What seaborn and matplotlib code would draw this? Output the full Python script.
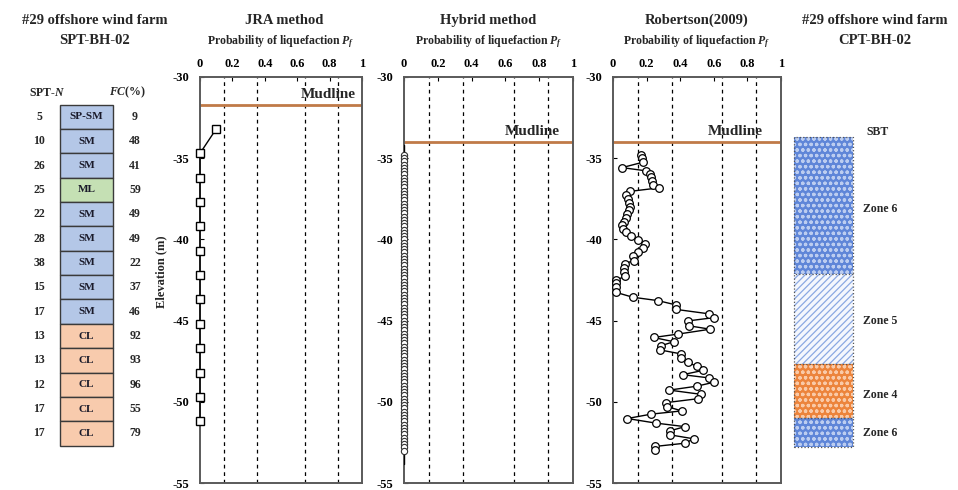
import numpy as np
import pandas as pd
import matplotlib
matplotlib.use("Agg")
import matplotlib.pyplot as plt
import seaborn as sns

# ---------------- data ----------------
spt_top = [-31.7, -33.2, -34.7, -36.2, -37.7, -39.2, -40.7, -42.2, -43.7, -45.2, -46.7, -48.2, -49.7, -51.2]
spt_n = [5, 10, 26, 25, 22, 28, 38, 15, 17, 13, 13, 12, 17, 17]
uscs = ['SP-SM', 'SM', 'SM', 'ML', 'SM', 'SM', 'SM', 'SM', 'SM', 'CL', 'CL', 'CL', 'CL', 'CL']
fc = [9, 48, 41, 59, 49, 49, 22, 37, 46, 92, 93, 96, 55, 79]

jra_elev = [-33.2, -34.7, -36.2, -37.7, -39.2, -40.7, -42.2, -43.7, -45.2, -46.7, -48.2, -49.7, -51.2]
jra_pf = [0.10, 0, 0, 0, 0, 0, 0, 0, 0, 0, 0, 0, 0]

hyb_elev = [-34.8, -35.0, -35.2, -35.4, -35.6, -35.8, -36.0, -36.2, -36.4, -36.6, -36.8, -37.0,
            -37.2, -37.4, -37.6, -37.8, -38.0, -38.2, -38.4, -38.6, -38.8, -39.0, -39.2, -39.4,
            -39.6, -39.8, -40.0, -40.2, -40.4, -40.6, -40.8, -41.0, -41.2, -41.4, -41.6, -41.8,
            -42.0, -42.2, -42.4, -42.6, -42.8, -43.0, -43.2, -43.4, -43.6, -43.8, -44.0, -44.2,
            -44.4, -44.6, -44.8, -45.0, -45.2, -45.4, -45.6, -45.8, -46.0, -46.2, -46.4, -46.6,
            -46.8, -47.0, -47.2, -47.4, -47.6, -47.8, -48.0, -48.2, -48.4, -48.6, -48.8, -49.0,
            -49.2, -49.4, -49.6, -49.8, -50.0, -50.2, -50.4, -50.6, -50.8, -51.0, -51.2, -51.4,
            -51.6, -51.8, -52.0, -52.2, -52.4, -52.6, -52.8, -53.0]
hyb_pf = [0.0] * len(hyb_elev)
hyb_line_elev = [-34.2, -53.8]
hyb_line_pf = [0.0, 0.0]

rob_elev = [-34.79, -35.00, -35.25, -35.58, -35.78, -35.98, -36.18, -36.43, -36.63, -36.83,
            -37.04, -37.28, -37.52, -37.74, -37.99, -38.21, -38.45, -38.70, -38.90, -39.14,
            -39.35, -39.57, -39.78, -40.02, -40.28, -40.52, -40.77, -41.04, -41.30, -41.50,
            -41.74, -41.98, -42.28, -42.51, -42.71, -42.96, -43.26, -43.56, -43.77, -44.03,
            -44.31, -44.58, -44.82, -45.02, -45.32, -45.53, -45.83, -46.04, -46.30, -46.55,
            -46.81, -47.05, -47.32, -47.58, -47.82, -48.07, -48.33, -48.53, -48.80, -49.04,
            -49.28, -49.54, -49.81, -50.05, -50.30, -50.56, -50.76, -51.03, -51.31, -51.53,
            -51.78, -52.04, -52.28, -52.55, -52.75, -52.99]
rob_pf = [0.168, 0.173, 0.177, 0.054, 0.198, 0.218, 0.228, 0.232, 0.238, 0.272,
          0.103, 0.077, 0.087, 0.097, 0.103, 0.093, 0.083, 0.077, 0.064, 0.054,
          0.058, 0.077, 0.109, 0.149, 0.189, 0.179, 0.149, 0.120, 0.123, 0.070,
          0.064, 0.064, 0.070, 0.018, 0.018, 0.018, 0.018, 0.117, 0.268, 0.373,
          0.375, 0.569, 0.599, 0.446, 0.452, 0.579, 0.387, 0.242, 0.361, 0.285,
          0.282, 0.405, 0.407, 0.446, 0.500, 0.534, 0.415, 0.573, 0.599, 0.498,
          0.335, 0.524, 0.505, 0.317, 0.322, 0.410, 0.227, 0.085, 0.254, 0.428,
          0.342, 0.342, 0.481, 0.428, 0.249, 0.249]

mudline = {'JRA': -31.7, 'Hybrid': -34.0, 'Robertson': -34.0}

sbt_top = [-33.7, -42.1, -47.7, -51.0]
sbt_bot = [-42.1, -47.7, -51.0, -52.8]
sbt_zone = ['Zone 6', 'Zone 5', 'Zone 4', 'Zone 6']

x_ticks = [0, 0.2, 0.4, 0.6, 0.8, 1]
x_ticklabels = ['0', '0.2', '0.4', '0.6', '0.8', '1']
y_ticks = [-30, -35, -40, -45, -50, -55]
ref_lines = [0.15, 0.35, 0.65, 0.85]

# ---------------- style ----------------
sns.set_style('white')
plt.rcParams['font.family'] = ['Liberation Serif', 'DejaVu Serif']
plt.rcParams['font.weight'] = 'bold'
plt.rcParams['axes.unicode_minus'] = False
plt.rcParams['mathtext.fontset'] = 'custom'
plt.rcParams['mathtext.it'] = 'Liberation Serif:italic:bold'
plt.rcParams['mathtext.rm'] = 'Liberation Serif:bold'
plt.rcParams['hatch.linewidth'] = 0.9

W, H = 958, 490
TOP, BOT = 77, 483
fig = plt.figure(figsize=(W / 100, H / 100), dpi=100)

def px_axes(left, right, top=TOP, bottom=BOT):
    return fig.add_axes([left / W, 1 - bottom / H, (right - left) / W, (bottom - top) / H])

spine_col = '#5a5a5a'
mud_col = '#c07a48'

def setup_prob_axes(ax, title, title_x, mud, mud_x):
    ax.set_xlim(0, 1)
    ax.set_ylim(-55, -30)
    ax.xaxis.tick_top()
    ax.set_xticks(x_ticks)
    ax.set_xticklabels(x_ticklabels)
    ax.set_yticks(y_ticks)
    ax.tick_params(axis='x', direction='in', length=3, pad=5, labelsize=9, colors='black')
    ax.tick_params(axis='y', direction='in', length=3, pad=8, labelsize=9, colors='black', left=True)
    ax.tick_params(axis='x', top=True, bottom=False)
    for s in ax.spines.values():
        s.set_color(spine_col)
        s.set_linewidth(1.4)
    for xv in ref_lines:
        ax.axvline(xv, color='black', ls=(0, (3, 3)), lw=0.9, zorder=1)
    ax.axhline(mud, color=mud_col, lw=2, zorder=2)
    ax.text(mud_x, mud + 0.25, 'Mudline', ha='right', va='bottom', fontsize=11, fontweight='bold')
    ax.text(0.5, 1 + 35 / (BOT - TOP), r'Probability of liquefaction $P_f$', transform=ax.transAxes,
            ha='center', va='center', fontsize=8.5, fontweight='bold')
    ax.text(title_x, 1 + 57 / (BOT - TOP), title, transform=ax.transAxes, ha='center', va='center',
            fontsize=10.5, fontweight='bold')
    ax.set_xlabel('')
    ax.set_ylabel('')

# JRA
ax1 = px_axes(200, 362)
sns.lineplot(x=jra_pf, y=jra_elev, sort=False, estimator=None, ax=ax1, color='black', lw=1,
             marker='s', markersize=5.5, markerfacecolor='white', markeredgecolor='black',
             markeredgewidth=1, zorder=5, clip_on=False)
setup_prob_axes(ax1, 'JRA method', 0.52, mudline['JRA'], 0.96)
ax1.set_ylabel('Elevation (m)', fontsize=9, fontweight='bold')
ax1.yaxis.set_label_coords(-0.2, 0.52)

# Hybrid
ax2 = px_axes(404, 573)
sns.lineplot(x=hyb_line_pf, y=hyb_line_elev, sort=False, estimator=None, ax=ax2, color='black', lw=1, zorder=4)
sns.lineplot(x=hyb_pf, y=hyb_elev, sort=False, estimator=None, ax=ax2, color='black', lw=1,
             marker='o', markersize=4.5, markerfacecolor='white', markeredgecolor='#333333',
             markeredgewidth=0.8, zorder=5, clip_on=False)
setup_prob_axes(ax2, 'Hybrid method', 0.5, mudline['Hybrid'], 0.92)

# Robertson
ax3 = px_axes(613, 781)
sns.lineplot(x=rob_pf, y=rob_elev, sort=False, estimator=None, ax=ax3, color='black', lw=1,
             marker='o', markersize=5.5, markerfacecolor='white', markeredgecolor='black',
             markeredgewidth=0.9, zorder=5, clip_on=False)
setup_prob_axes(ax3, 'Robertson(2009)', 0.5, mudline['Robertson'], 0.89)

# ---------------- SPT column ----------------
axs = px_axes(0, 200)
axs.set_xlim(0, 200)
axs.set_ylim(-55, -30)
axs.axis('off')
spt_colors = {'SP-SM': '#b4c7e7', 'SM': '#b4c7e7', 'ML': '#c5e0b4', 'CL': '#f8cbad'}
thick = 1.5
centers = [t - thick / 2 for t in spt_top]
axs.barh(centers, [53] * len(centers), left=60, height=thick,
         color=[spt_colors[u] for u in uscs], edgecolor='#3a3a3a', linewidth=1)
for c, n, u, f in zip(centers, spt_n, uscs, fc):
    axs.text(39, c, str(n), ha='center', va='center', fontsize=8.5, fontweight='bold')
    axs.text(86.5, c, u, ha='center', va='center', fontsize=8, fontweight='bold', color='#1a1a2a')
    axs.text(135, c, str(f), ha='center', va='center', fontsize=8.5, fontweight='bold')
axs.text(47, -30.97, r'SPT-$N$', ha='center', va='center', fontsize=8.5, fontweight='bold')
axs.text(127, -30.97, r'$FC$(%)', ha='center', va='center', fontsize=8.5, fontweight='bold')

fig.text(95 / W, 1 - 21 / H, '#29 offshore wind farm', ha='center', va='center', fontsize=10.5, fontweight='bold')
fig.text(95 / W, 1 - 41 / H, 'SPT-BH-02', ha='center', va='center', fontsize=10.5, fontweight='bold')

# ---------------- CPT / SBT column ----------------
axc = px_axes(780, 958)
axc.set_xlim(780, 958)
axc.set_ylim(-55, -30)
axc.axis('off')
zone_style = {
    'Zone 6': dict(face='#5f86d8', hatch='ooo', hcol='#bccdf0'),
    'Zone 5': dict(face='#f4f7fd', hatch='/////', hcol='#8aa8e2'),
    'Zone 4': dict(face='#ec843c', hatch='ooo', hcol='#f9caa8'),
}
for t, b, z in zip(sbt_top, sbt_bot, sbt_zone):
    st = zone_style[z]
    axc.bar((794 + 853) / 2, t - b, bottom=b, width=59, color=st['face'],
            hatch=st['hatch'], edgecolor=st['hcol'], linewidth=0)
    axc.bar((794 + 853) / 2, t - b, bottom=b, width=59, fill=False,
            edgecolor='#555555', linewidth=0.9, linestyle=':')
zone_label_y = [-38.15, -45.0, -49.6, -51.95]
for z, yv in zip(sbt_zone, zone_label_y):
    axc.text(863, yv, z, ha='left', va='center', fontsize=8.5, fontweight='bold')
axc.text(878, -33.4, 'SBT', ha='center', va='center', fontsize=8.5, fontweight='bold')

fig.text(875 / W, 1 - 21 / H, '#29 offshore wind farm', ha='center', va='center', fontsize=10.5, fontweight='bold')
fig.text(875 / W, 1 - 41 / H, 'CPT-BH-02', ha='center', va='center', fontsize=10.5, fontweight='bold')

fig.savefig('out.png', dpi=100)
